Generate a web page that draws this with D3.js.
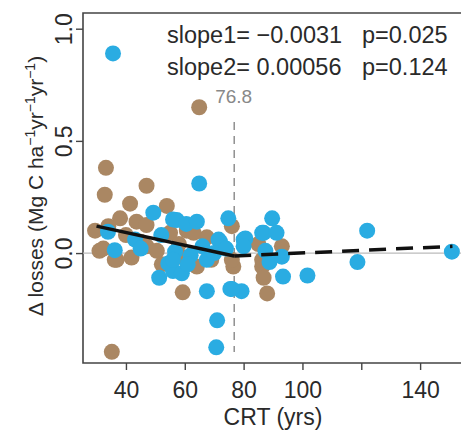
<!DOCTYPE html>
<html><head><meta charset="utf-8">
<script src="https://cdn.jsdelivr.net/npm/d3@7"></script>
<style>body{margin:0;background:#fff}svg{display:block}text{font-family:"Liberation Sans",Arial,sans-serif}</style>
</head><body>
<svg id="c" width="461" height="434"></svg>
<script>
const xTicks = [40, 60, 80, 100, 120, 140];
const xTickLabels = ["40", "60", "80", "100", "", "140"];
const yTicks = [0.0, 0.5, 1.0];
const yTickLabels = ["0.0", "0.5", "1.0"];

const brownX = [29.5,31,32.3,33.2,32.8,35.2,36.2,36.8,38,41.4,41.9,43.6,47,47,47,50.5,52.2,53.9,55,59.3,59.5,60.7,64.1,64.9,67.5,69,76,76.5,76,85,86.3,86.8,88,86.3,93,58,63,45,40,34];
const brownY = [0.10,0.01,0.02,0.38,0.26,-0.44,-0.03,-0.03,0.155,0.22,-0.02,0.14,0.30,0.125,0.03,0.01,-0.05,0.21,0.09,-0.175,-0.02,0.10,-0.06,0.65,0.07,-0.03,0.12,-0.06,-0.03,0.04,-0.06,-0.11,-0.18,-0.03,0.03,0.04,0.09,0.05,0.08,0.12];

const blueX = [35.6,33.9,36.2,43.1,49.3,56,57.3,54.4,56.7,51.3,56,59,56,60.5,64.1,64.9,66,67.5,67.5,71,70.7,72,71.5,74.8,75.5,79.3,76,80,80.6,80,86.3,86.8,87.4,88.8,89.7,91.2,93,93.4,101.7,118.7,122,150.8,62,45,52,70,74,61];
const blueY = [0.89,0.095,0.013,0.06,0.18,0.15,0.147,-0.046,0.006,-0.11,-0.08,-0.09,-0.03,0.13,0.14,0.31,0.03,-0.03,-0.17,-0.30,-0.42,0.05,0.06,0.155,-0.16,-0.17,-0.16,0.06,0.065,0.03,0.09,0.09,0.01,-0.04,0.155,0.09,-0.016,-0.105,-0.10,-0.04,0.10,0.006,-0.01,0.02,0.08,0.0,0.02,-0.05];

const breakpoint = 76.8;
const seg1X = [30, 76.8];
const seg1Y = [0.12, -0.013];
const seg2X = [76.8, 151];
const seg2Y = [-0.013, 0.03];
const statSlopes = ["slope1= \u22120.0031", "slope2= 0.00056"];
const statP = ["p=0.025", "p=0.124"];

const svg = d3.select("#c");
const L = 83, R = 470, T = 13, B = 363;
const x = d3.scaleLinear().domain([25.4, 153.9]).range([83, 461]);
const y = d3.scaleLinear().domain([-0.49, 1.07]).range([B, T]);
const axisCol = "#444";
const textCol = "#2a2a2a";

// frame
svg.append("path").attr("d", `M${R},${T}H${L}V${B}H${R}`).attr("fill","none").attr("stroke",axisCol).attr("stroke-width",1.6);

// zero line
svg.append("line").attr("x1",L).attr("x2",461).attr("y1",y(0)).attr("y2",y(0)).attr("stroke","#bbb").attr("stroke-width",1.2);

// breakpoint line
svg.append("line").attr("x1",x(breakpoint)).attr("x2",x(breakpoint)).attr("y1",122).attr("y2",352)
  .attr("stroke","#888").attr("stroke-width",1.4).attr("stroke-dasharray","8,6");
svg.append("text").attr("x",x(breakpoint)-19).attr("y",103).attr("font-size",19).attr("fill","#888").text(breakpoint);

const pts = [];
brownX.forEach((v,i)=>pts.push({x:v,y:brownY[i],c:"#aa8763"}));
blueX.forEach((v,i)=>pts.push({x:v,y:blueY[i],c:"#2aace2"}));
svg.append("g").selectAll("circle").data(pts).join("circle")
  .attr("cx",d=>x(d.x)).attr("cy",d=>y(d.y)).attr("r",8).attr("fill",d=>d.c);

// segmented fit
const line = d3.line().x(d=>x(d[0])).y(d=>y(d[1]));
svg.append("path").attr("d", line(d3.zip(seg1X, seg1Y))).attr("stroke","#111").attr("stroke-width",3.5).attr("fill","none");
svg.append("path").attr("d", line(d3.zip(seg2X, seg2Y))).attr("stroke","#111").attr("stroke-width",3.5).attr("fill","none").attr("stroke-dasharray","17,10");

// x axis
const xa = svg.append("g").attr("transform",`translate(0,${B})`)
  .call(d3.axisBottom(x).tickValues(xTicks).tickSize(7).tickPadding(0).tickFormat((d,i)=>xTickLabels[i]));
xa.select(".domain").remove();
xa.selectAll("line").attr("stroke",axisCol).attr("stroke-width",1.4);
xa.selectAll("text").attr("font-size",23).attr("fill",textCol).attr("font-family","Liberation Sans, Arial, sans-serif")
  .attr("y",35).attr("dy",0);

// y axis
const ya = svg.append("g").attr("transform",`translate(${L},0)`)
  .call(d3.axisLeft(y).tickValues(yTicks).tickSize(7).tickFormat((d,i)=>yTickLabels[i]));
ya.select(".domain").remove();
ya.selectAll("line").attr("stroke",axisCol).attr("stroke-width",1.4);
ya.selectAll("text").attr("font-size",23).attr("fill",textCol).attr("font-family","Liberation Sans, Arial, sans-serif")
  .attr("x",0).attr("y",0).attr("dy",0).attr("text-anchor","middle")
  .attr("transform","translate(-11,0) rotate(-90)");

// stats text
statSlopes.forEach((s,i)=>{
  const yy = 43 + i*32;
  svg.append("text").attr("x",167).attr("y",yy).attr("font-size",23.5).attr("fill",textCol).style("white-space","pre").text(s);
  svg.append("text").attr("x",362).attr("y",yy).attr("font-size",23.5).attr("fill",textCol).text(statP[i]);
});

// axis titles
svg.append("text").attr("x",273).attr("y",425).attr("text-anchor","middle").attr("font-size",23).attr("fill",textCol).text("CRT (yrs)");
const yt = svg.append("text").attr("transform","translate(43,186) rotate(-90)").attr("text-anchor","middle").attr("font-size",21).attr("fill",textCol);
yt.append("tspan").text("\u0394 losses (Mg C ha");
yt.append("tspan").attr("dy",-8).attr("font-size",14).text("\u22121");
yt.append("tspan").attr("dy",8).text("yr");
yt.append("tspan").attr("dy",-8).attr("font-size",14).text("\u22121");
yt.append("tspan").attr("dy",8).text("yr");
yt.append("tspan").attr("dy",-8).attr("font-size",14).text("\u22121");
yt.append("tspan").attr("dy",8).text(")");
</script>
</body></html>
